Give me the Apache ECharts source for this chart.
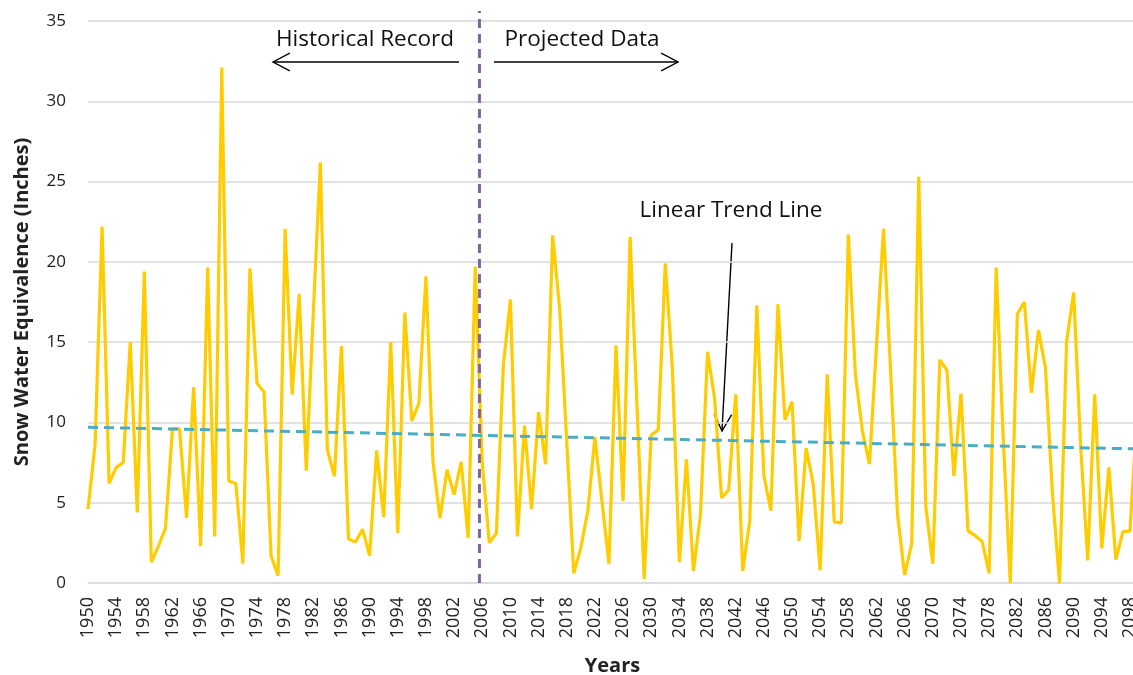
<!DOCTYPE html>
<html>
<head>
<meta charset="utf-8">
<script src="https://cdn.jsdelivr.net/npm/echarts@6/dist/echarts.min.js"></script>
<style>
  html, body { margin: 0; padding: 0; background: #fff; }
  #chart { width: 1133px; height: 675px; }
</style>
</head>
<body>
<div id="chart"></div>
<script>
// Annual snow water equivalence, 1950-2099 (historical record + projection)
const startYear = 1950;
const endYear = 2099;
const swe = [
  4.6, 8.6, 22.2, 6.2, 7.2, 7.5, 15.0, 4.4, 19.4, 1.3,          // 1950-1959
  2.3, 3.4, 9.6, 9.6, 4.05, 12.2, 2.3, 19.65, 2.9, 32.1,         // 1960-1969
  6.35, 6.2, 1.2, 19.6, 12.45, 11.9, 1.7, 0.45, 22.05, 11.75,    // 1970-1979
  18.0, 7.0, 16.8, 26.2, 8.3, 6.65, 14.75, 2.75, 2.55, 3.35,     // 1980-1989
  1.7, 8.25, 4.1, 15.0, 3.1, 16.85, 10.1, 11.2, 19.1, 7.55,      // 1990-1999
  4.05, 7.05, 5.5, 7.55, 2.8, 19.7, 7.5, 2.5, 3.1, 13.6,         // 2000-2009
  17.65, 2.9, 9.8, 4.6, 10.65, 7.4, 21.65, 17.05, 8.8, 0.6,      // 2010-2019
  2.2, 4.5, 9.1, 5.1, 1.2, 14.8, 5.1, 21.55, 10.8, 0.25,         // 2020-2029
  9.2, 9.55, 19.9, 13.4, 1.3, 7.7, 0.75, 4.3, 14.4, 11.5,        // 2030-2039
  5.3, 5.8, 11.75, 0.75, 3.9, 17.3, 6.7, 4.5, 17.35, 10.15,      // 2040-2049
  11.3, 2.6, 8.4, 6.2, 0.8, 13.0, 3.8, 3.75, 21.7, 13.0,         // 2050-2059
  9.45, 7.4, 14.8, 22.05, 13.2, 4.2, 0.5, 2.45, 25.3, 4.75,      // 2060-2069
  1.2, 13.9, 13.25, 6.65, 11.8, 3.25, 2.95, 2.6, 0.6, 19.65,     // 2070-2079
  9.0, 0.0, 16.75, 17.5, 11.85, 15.75, 13.4, 5.5, 0.0, 15.05,    // 2080-2089
  18.1, 8.5, 1.4, 11.75, 2.15, 7.2, 1.45, 3.2, 3.25, 10.5        // 2090-2099
];
const years = swe.map((_, i) => startYear + i);

// Linear trend line end values
const trendYears = [1950, 2099];
const trendValues = [9.7, 8.35];

// Boundary between historical record and projection
const splitYear = 2005.6;

// Axis ticks
const yMin = 0, yMax = 35, yStep = 5;
const xStep = 4;

const FONT = '"Open Sans", "Noto Sans", sans-serif';
const chart = echarts.init(document.getElementById('chart'));

function arrowHead(x, y, dx, dy, len, spread) {
  // open chevron pointing along (dx,dy) with its tip at (x,y)
  const a = Math.atan2(dy, dx);
  const p1 = [x - len * Math.cos(a - spread), y - len * Math.sin(a - spread)];
  const p2 = [x - len * Math.cos(a + spread), y - len * Math.sin(a + spread)];
  return { type: 'polyline', shape: { points: [p1, [x, y], p2] },
           style: { stroke: '#000', lineWidth: 1.4, fill: null } };
}

function arrow(x1, y1, x2, y2) {
  return [
    { type: 'line', shape: { x1, y1, x2, y2 }, style: { stroke: '#000', lineWidth: 1.4 } },
    arrowHead(x2, y2, x2 - x1, y2 - y1, 19, 0.48)
  ];
}

const annotations = [
  { type: 'text', x: 365, y: 40,
    style: { text: 'Historical Record', font: '22.5px ' + FONT, fill: '#111',
             textAlign: 'center', textVerticalAlign: 'middle' } },
  { type: 'text', x: 582, y: 40,
    style: { text: 'Projected Data', font: '22.5px ' + FONT, fill: '#111',
             textAlign: 'center', textVerticalAlign: 'middle' } },
  { type: 'text', x: 731, y: 211,
    style: { text: 'Linear Trend Line', font: '22.5px ' + FONT, fill: '#111',
             textAlign: 'center', textVerticalAlign: 'middle' } },
  ...arrow(459, 62, 273, 62),
  ...arrow(494, 62, 678, 62),
  ...arrow(732, 243, 722, 431)
];

chart.setOption({
  animation: false,
  backgroundColor: '#fff',
  grid: { left: 88, width: 1049, top: 21, bottom: 92,
          containLabel: false, outerBoundsMode: 'none' },
  xAxis: {
    type: 'value',
    min: startYear,
    max: endYear,
    interval: xStep,
    name: 'Years',
    nameLocation: 'middle',
    nameGap: 73,
    nameTextStyle: { fontFamily: FONT, fontWeight: 'bold', fontSize: 20, color: '#222' },
    axisLine: { show: true, lineStyle: { color: '#d9d9d9', width: 1.5 } },
    axisTick: { show: false },
    splitLine: { show: false },
    axisLabel: {
      rotate: 90, fontFamily: FONT, fontSize: 18, color: '#222', margin: 14,
      showMaxLabel: false, hideOverlap: false,
      formatter: v => String(v)
    }
  },
  yAxis: {
    type: 'value',
    min: yMin, max: yMax, interval: yStep,
    name: 'Snow Water Equivalence (Inches)',
    nameLocation: 'middle',
    nameGap: 56,
    nameRotate: 90,
    nameTextStyle: { fontFamily: FONT, fontWeight: 'bold', fontSize: 20, color: '#222' },
    axisLine: { show: false },
    axisTick: { show: false },
    splitLine: { lineStyle: { color: '#d9d9d9', width: 1.5 } },
    axisLabel: { fontFamily: FONT, fontSize: 17, color: '#222', margin: 22 }
  },
  series: [
    {
      name: 'SWE',
      type: 'line',
      data: years.map((y, i) => [y, swe[i]]),
      symbol: 'none',
      lineStyle: { color: '#FFCC00', width: 3.2 },
      z: 2
    },
    {
      name: 'Linear Trend Line',
      type: 'line',
      data: trendYears.map((y, i) => [y, trendValues[i]]),
      symbol: 'none',
      lineStyle: { color: '#4BACC6', width: 3, type: [10, 6] },
      z: 3
    }
  ],
  graphic: annotations
});

// Dashed divider between the record and the projection, running from the
// x axis up past the top gridline
const dividerBase = chart.convertToPixel({ gridIndex: 0 }, [splitYear, yMin]);
const dividerTop = chart.convertToPixel({ gridIndex: 0 }, [splitYear, yMax]);
chart.setOption({
  graphic: annotations.concat([{
    type: 'line', z: 10,
    shape: { x1: dividerBase[0], y1: dividerBase[1], x2: dividerTop[0], y2: dividerTop[1] - 10 },
    style: { stroke: '#8064A2', lineWidth: 3, lineDash: [9, 6] }
  }])
});
</script>
</body>
</html>
